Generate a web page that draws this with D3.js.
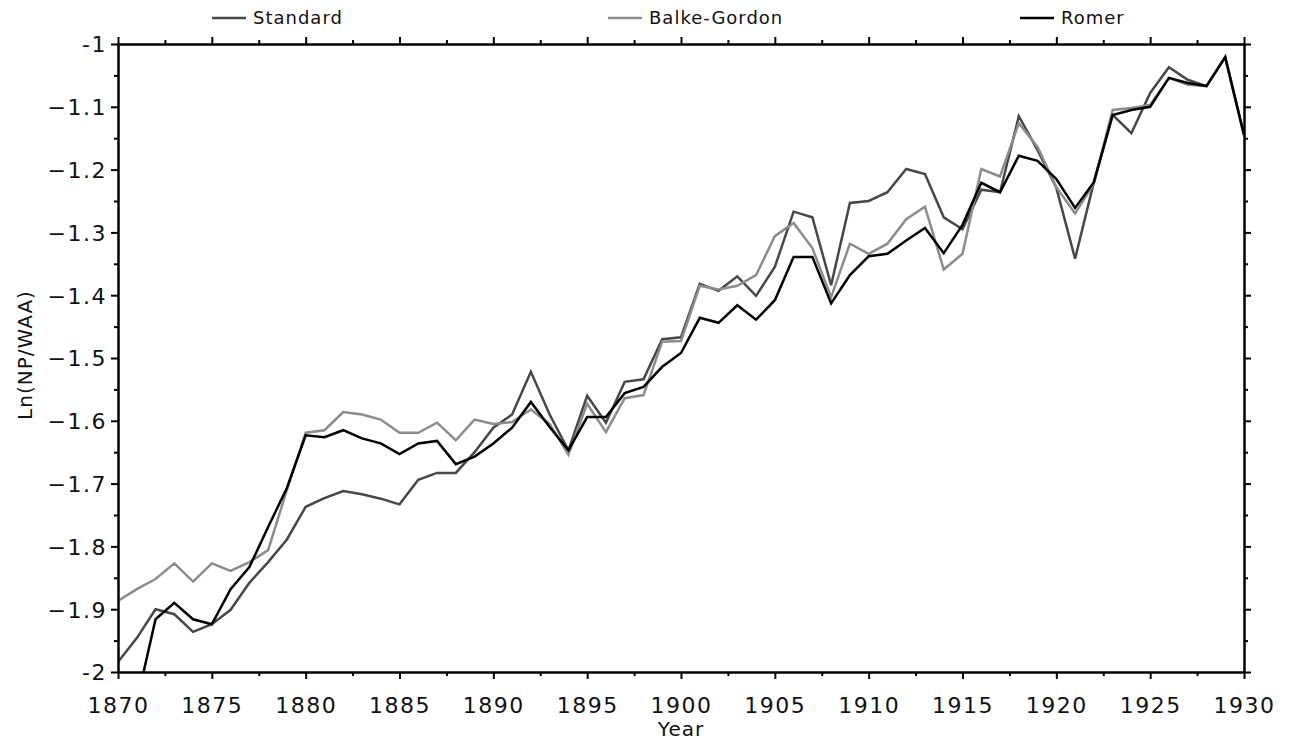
<!DOCTYPE html>
<html>
<head>
<meta charset="utf-8">
<script src="https://cdn.jsdelivr.net/npm/d3@7"></script>
<style>
  body { margin: 0; background: #fff; }
  text { font-family: "DejaVu Sans", Verdana, sans-serif; fill: #111; }
  .tick text { font-size: 22px; letter-spacing: 1.5px; }
  .legend text { font-size: 18px; letter-spacing: 1px; }
  .axisText { font-size: 20px; letter-spacing: 1px; }
</style>
</head>
<body>
<div id="chart"></div>
<script>
// data
var years = d3.range(1870, 1931);

var standard = [-1.984, -1.946, -1.900, -1.908, -1.936, -1.924, -1.901, -1.858, -1.825, -1.789,
  -1.737, -1.723, -1.712, -1.717, -1.724, -1.733, -1.694, -1.683, -1.683, -1.650,
  -1.611, -1.590, -1.522, -1.590, -1.647, -1.560, -1.603, -1.538, -1.534, -1.470,
  -1.467, -1.382, -1.393, -1.370, -1.401, -1.355, -1.267, -1.276, -1.384, -1.253,
  -1.250, -1.236, -1.199, -1.207, -1.276, -1.295, -1.232, -1.236, -1.115, -1.169,
  -1.229, -1.342, -1.220, -1.113, -1.142, -1.078, -1.037, -1.057, -1.067, -1.021,
  -1.145];

var balkeGordon = [-1.887, -1.868, -1.852, -1.827, -1.856, -1.827, -1.839, -1.825, -1.806, -1.710,
  -1.619, -1.615, -1.586, -1.590, -1.598, -1.619, -1.619, -1.603, -1.631, -1.598,
  -1.605, -1.602, -1.582, -1.605, -1.654, -1.573, -1.618, -1.564, -1.559, -1.474,
  -1.473, -1.385, -1.391, -1.385, -1.368, -1.306, -1.285, -1.325, -1.403, -1.318,
  -1.334, -1.318, -1.279, -1.259, -1.359, -1.334, -1.199, -1.211, -1.126, -1.164,
  -1.228, -1.270, -1.222, -1.105, -1.102, -1.097, -1.054, -1.065, -1.067, -1.021,
  -1.145];

var romer = [null, -2.048, -1.916, -1.890, -1.916, -1.924, -1.868, -1.833, -1.769, -1.707,
  -1.623, -1.626, -1.615, -1.628, -1.636, -1.653, -1.636, -1.632, -1.669, -1.657,
  -1.636, -1.611, -1.570, -1.610, -1.647, -1.594, -1.594, -1.556, -1.546, -1.514,
  -1.492, -1.436, -1.444, -1.416, -1.439, -1.408, -1.339, -1.339, -1.413, -1.368,
  -1.338, -1.334, -1.313, -1.293, -1.333, -1.288, -1.221, -1.236, -1.178, -1.186,
  -1.215, -1.261, -1.220, -1.113, -1.105, -1.100, -1.054, -1.062, -1.067, -1.021,
  -1.145];

var seriesNames = ["Standard", "Balke-Gordon", "Romer"];
var seriesColors = ["#474747", "#8c8c8c", "#000000"];
var xTicks = [1870, 1875, 1880, 1885, 1890, 1895, 1900, 1905, 1910, 1915, 1920, 1925, 1930];
var yTicks = [-1, -1.1, -1.2, -1.3, -1.4, -1.5, -1.6, -1.7, -1.8, -1.9, -2];

var svgWidth = 1290;
var svgHeight = 744;
var margin = { top: 44, right: 46, bottom: 72, left: 118 };
var width = svgWidth - margin.left - margin.right;
var height = svgHeight - margin.top - margin.bottom;

var svg = d3.select("#chart")
  .append("svg")
  .attr("width", svgWidth)
  .attr("height", svgHeight);

var chartGroup = svg.append("g")
  .attr("transform", `translate(${margin.left}, ${margin.top})`);

var xScale = d3.scaleLinear().domain([1870, 1930]).range([0, width]);
var yScale = d3.scaleLinear().domain([-2, -1]).range([height, 0]);

var xMinor = d3.range(1872.5, 1930, 5);
var yMinor = d3.range(-1.95, -1, 0.1);

// clip lines to plot area
svg.append("defs").append("clipPath").attr("id", "clip")
  .append("rect").attr("width", width).attr("height", height);

// lines
var lineGen = d3.line()
  .defined(d => d.v !== null)
  .x(d => xScale(d.year))
  .y(d => yScale(d.v));

var allSeries = [standard, balkeGordon, romer];
var linesGroup = chartGroup.append("g").attr("clip-path", "url(#clip)");
allSeries.forEach(function(vals, i) {
  var pts = years.map((y, j) => ({ year: y, v: vals[j] }));
  linesGroup.append("path")
    .datum(pts)
    .attr("fill", "none")
    .attr("stroke", seriesColors[i])
    .attr("stroke-width", 2.5)
    .attr("stroke-linejoin", "miter")
    .attr("d", lineGen);
});

// axes
function styleAxis(g) {
  g.select(".domain").attr("stroke", "#000").attr("stroke-width", 2.5);
  g.selectAll(".tick line").attr("stroke", "#000").attr("stroke-width", 2);
}

var bottomAxis = d3.axisBottom(xScale).tickValues(xTicks).tickFormat(d3.format("d"))
  .tickSizeInner(7).tickSizeOuter(0);
var leftAxis = d3.axisLeft(yScale).tickValues(yTicks).tickFormat(d => d === -1 || d === -2 ? String(d) : d3.format(".1f")(d))
  .tickSizeInner(7).tickSizeOuter(0).tickPadding(4);

var gx = chartGroup.append("g").attr("transform", `translate(0, ${height})`).call(bottomAxis);
gx.call(styleAxis);
gx.selectAll(".tick text").attr("y", 41).attr("dy", 0);
chartGroup.append("g").attr("transform", `translate(0, ${height})`)
  .call(d3.axisBottom(xScale).tickValues(xMinor).tickSize(4).tickFormat(""))
  .call(styleAxis).select(".domain").remove();

var gy = chartGroup.append("g").call(leftAxis);
gy.call(styleAxis);
gy.selectAll(".tick text").attr("dy", "0.36em");
chartGroup.append("g")
  .call(d3.axisLeft(yScale).tickValues(yMinor).tickSize(4).tickFormat(""))
  .call(styleAxis).select(".domain").remove();

var gt = chartGroup.append("g")
  .call(d3.axisTop(xScale).tickValues(xTicks).tickSizeInner(7).tickSizeOuter(0).tickFormat(""));
gt.call(styleAxis);
chartGroup.append("g")
  .call(d3.axisTop(xScale).tickValues(xMinor).tickSize(4).tickFormat(""))
  .call(styleAxis).select(".domain").remove();

var gr = chartGroup.append("g").attr("transform", `translate(${width}, 0)`)
  .call(d3.axisRight(yScale).tickValues(yTicks).tickSizeInner(7).tickSizeOuter(0).tickFormat(""));
gr.call(styleAxis);
chartGroup.append("g").attr("transform", `translate(${width}, 0)`)
  .call(d3.axisRight(yScale).tickValues(yMinor).tickSize(4).tickFormat(""))
  .call(styleAxis).select(".domain").remove();

// axis labels
chartGroup.append("text")
  .attr("class", "axisText")
  .attr("transform", "rotate(-90)")
  .attr("x", -311)
  .attr("y", -margin.left + 32)
  .attr("text-anchor", "middle")
  .text("Ln(NP/WAA)");

chartGroup.append("text")
  .attr("class", "axisText")
  .attr("x", width / 2)
  .attr("y", height + 64)
  .attr("text-anchor", "middle")
  .text("Year");

// legend
var legendX = [212, 608, 1020];
var legend = svg.append("g").attr("class", "legend");
seriesNames.forEach(function(name, i) {
  legend.append("line")
    .attr("x1", legendX[i]).attr("x2", legendX[i] + 34)
    .attr("y1", 18).attr("y2", 18)
    .attr("stroke", seriesColors[i]).attr("stroke-width", 2.5);
  legend.append("text")
    .attr("x", legendX[i] + 41).attr("y", 24)
    .text(name);
});
</script>
</body>
</html>
